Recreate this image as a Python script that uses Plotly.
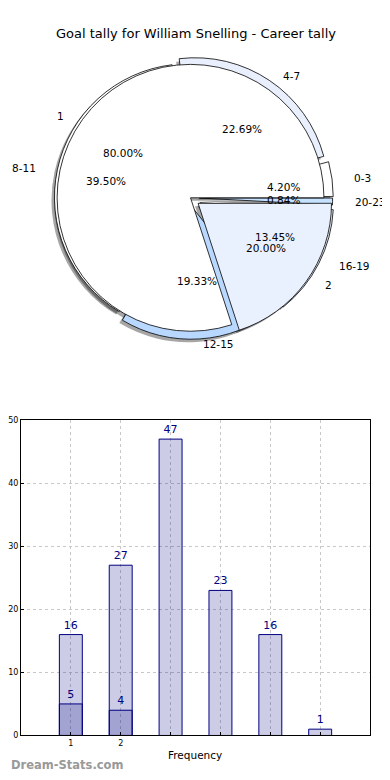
import numpy as np
import plotly.graph_objects as go

# page has an 8px body margin; the figure is sized to fit inside it
OFF = 8
W, H = 390 - OFF, 780 - OFF

# ---------------- data ----------------
title_text = "Goal tally for William Snelling - Career tally"

range_labels = ['0-3', '4-7', '8-11', '12-15', '16-19', '20-23']
range_counts = [5, 27, 47, 23, 16, 1]
range_colors = ['#ffffff', '#e9effd', '#ffffff', '#b9d8ff', '#eaf1fe', '#c6e2ff']
range_explode = [0.07, 0.06, 0.02, 0.06, 0.08, 0.065]

game_labels = ['1', '2']
game_counts = [16, 4]
game_colors = ['#ffffff', '#eaf1fe']
game_explode = [0.0, 0.07]

freq_x = [1, 2, 3, 4, 5, 6]
freq_values = [16, 27, 47, 23, 16, 1]
freq_sub_x = [1, 2]
freq_sub_values = [5, 4]
freq_ticktext = ['1', '2', '', '', '', '']

FONT = "DejaVu Sans"


def fx(px):
    return (px - OFF) / W


def fy(py):
    return 1 - (py - OFF) / H


# ---------------- pie geometry ----------------
CX, CY = 190, 196
R = 135
RX, RY = 140, 128  # text placement ellipse


def pie_domain(maxpull, dx=0, dy=0):
    half = R * (1 + maxpull)
    return dict(x=[fx(CX + dx - half), fx(CX + dx + half)],
                y=[fy(CY + dy + half), fy(CY + dy - half)])


def first_rotation(values):
    # plotly (counterclockwise) places the first slice clockwise of `rotation`;
    # make the first slice start at 3 o'clock going counterclockwise
    a1 = 360.0 * values[0] / sum(values)
    return 90 - a1


fig = go.Figure()

mpA = max(range_explode)
mpB = max(game_explode)


def add_pie(values, labels, pull, colors, line, domain):
    fig.add_trace(go.Pie(values=values, labels=labels, sort=False,
                         direction='counterclockwise', rotation=first_rotation(values),
                         pull=pull, marker=dict(colors=colors, line=line),
                         textinfo='none', hoverinfo='label+percent', showlegend=False,
                         domain=domain))


# shadows
add_pie(range_counts, range_labels, range_explode, ['rgba(0,0,0,0.35)'] * 6,
        dict(width=0), pie_domain(mpA, -3, 3))
add_pie(game_counts, game_labels, game_explode, ['rgba(0,0,0,0.35)'] * 2,
        dict(width=0), pie_domain(mpB, -3, 3))
# pies
add_pie(range_counts, range_labels, range_explode, range_colors,
        dict(color='black', width=0.8), pie_domain(mpA))
add_pie(game_counts, game_labels, game_explode, game_colors,
        dict(color='black', width=0.8), pie_domain(mpB))

annotations = []


def pie_texts(values, labels, explode):
    total = float(sum(values))
    start = 0.0
    for v, lab, ex in zip(values, labels, explode):
        frac = v / total
        mid = np.deg2rad(start + 360 * frac / 2)
        start += 360 * frac
        c, s = np.cos(mid), np.sin(mid)
        ox, oy = ex * RX * c, ex * RY * s
        lx = CX + 1.1 * RX * c + ox
        ly = CY - 1.1 * RY * s - oy
        annotations.append(dict(x=fx(lx), y=fy(ly), xref='paper', yref='paper',
                                text=lab, showarrow=False,
                                xanchor='left' if c > 0 else 'right', yanchor='middle',
                                font=dict(family=FONT, size=10.5, color='black')))
        px = CX + 0.6 * RX * c + ox
        py = CY - 0.6 * RY * s - oy
        annotations.append(dict(x=fx(px), y=fy(py), xref='paper', yref='paper',
                                text='%1.2f%%' % (100 * frac), showarrow=False,
                                xanchor='center', yanchor='middle',
                                font=dict(family=FONT, size=10.5, color='black')))


pie_texts(range_counts, range_labels, range_explode)
pie_texts(game_counts, game_labels, game_explode)

# ---------------- bars ----------------
bar_style = dict(width=0.46,
                 marker=dict(color='rgba(0,0,128,0.2)', line=dict(color='#000080', width=1)),
                 textposition='outside',
                 textfont=dict(family=FONT, size=11, color='#000080'),
                 cliponaxis=False, showlegend=False)
fig.add_trace(go.Bar(x=freq_x, y=freq_values, text=[str(v) for v in freq_values], **bar_style))
fig.add_trace(go.Bar(x=freq_sub_x, y=freq_sub_values,
                     text=[str(v) for v in freq_sub_values], **bar_style))

ax_common = dict(showline=True, linecolor='black', linewidth=1, mirror=True,
                 showgrid=True, gridcolor='#c8c8c8', griddash='dot', gridwidth=1,
                 ticks='inside', ticklen=3, tickcolor='black', zeroline=False,
                 tickfont=dict(family=FONT, size=8, color='black'))

fig.update_layout(
    width=W, height=H, margin=dict(l=0, r=0, t=0, b=0),
    paper_bgcolor='white', plot_bgcolor='white',
    barmode='overlay',
    xaxis=dict(domain=[fx(20), fx(370)], range=[0, 7], tickvals=freq_x,
               ticktext=freq_ticktext, **ax_common),
    yaxis=dict(domain=[fy(740), fy(421)], range=[0, 50], dtick=10, **ax_common),
    font=dict(family=FONT),
)

annotations.append(dict(x=fx(195), y=fy(30), xref='paper', yref='paper',
                        text=title_text, showarrow=False, xanchor='center', yanchor='middle',
                        font=dict(family=FONT, size=13, color='black')))
annotations.append(dict(x=fx(194), y=fy(760), xref='paper', yref='paper',
                        text='Frequency', showarrow=False, xanchor='center', yanchor='middle',
                        font=dict(family=FONT, size=10.5, color='black')))
annotations.append(dict(x=0, y=fy(770), xref='paper', yref='paper',
                        text='<b>Dream-Stats.com</b>', showarrow=False, xanchor='left',
                        yanchor='middle',
                        font=dict(family=FONT, size=11.5, color='#999999')))

fig.update_layout(annotations=annotations)

fig.write_html("out.html")
